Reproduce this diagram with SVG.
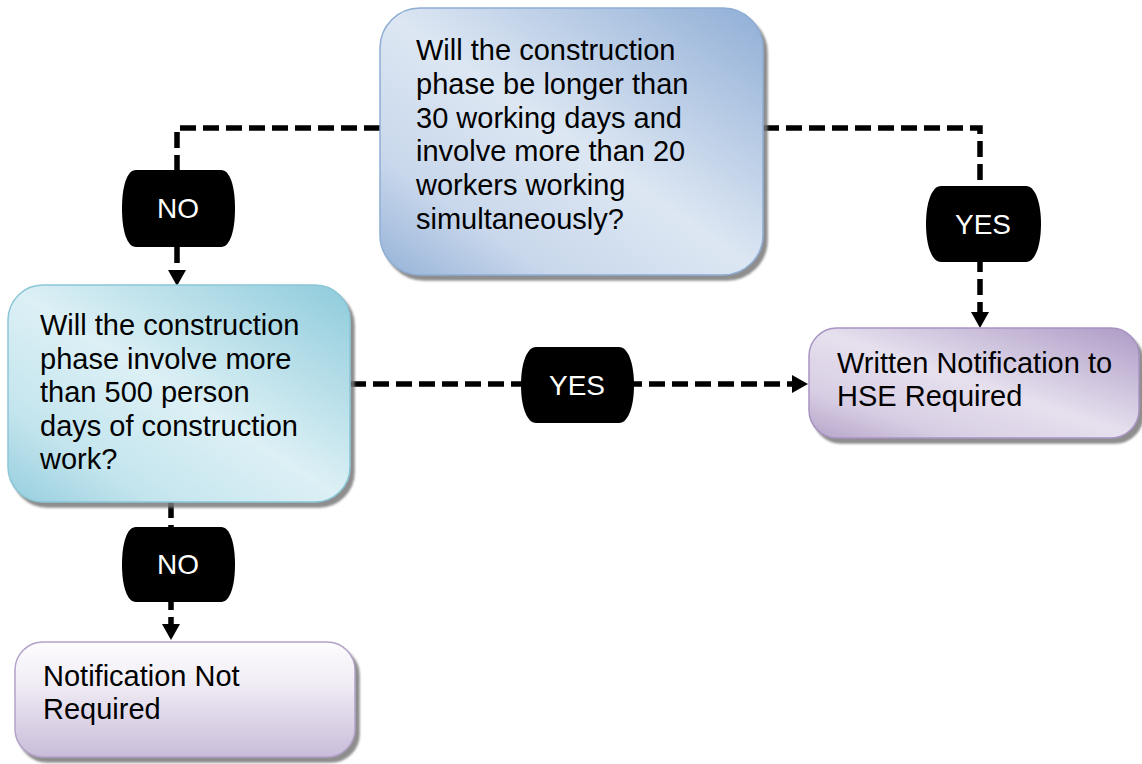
<svg xmlns="http://www.w3.org/2000/svg" width="1142" height="764" viewBox="0 0 1142 764">
  <style>
    .node-text { font-family: "Liberation Sans", Arial, sans-serif; font-size: 29px; fill: #000; }
    .label-text { font-family: "Liberation Sans", Arial, sans-serif; font-size: 28px; fill: #fff; text-anchor: middle; }
    .conn { fill: none; stroke: #000; stroke-width: 5.5; stroke-dasharray: 16 7; }
    .label-shape { fill: #000; }
  </style>
  <defs>
    <filter id="shadow" x="-10%" y="-10%" width="125%" height="125%">
      <feGaussianBlur in="SourceAlpha" stdDeviation="1.2" result="blur"/>
      <feOffset in="blur" dx="4" dy="5" result="off"/>
      <feFlood flood-color="#7a7a7a" flood-opacity="0.85"/>
      <feComposite in2="off" operator="in" result="shadow"/>
      <feMerge>
        <feMergeNode in="shadow"/>
        <feMergeNode in="SourceGraphic"/>
      </feMerge>
    </filter>
    <linearGradient id="gBlue" x1="1" y1="0" x2="0" y2="1">
      <stop offset="0" stop-color="#90aed6"/>
      <stop offset="0.5" stop-color="#dde7f3"/>
      <stop offset="0.78" stop-color="#c8d7eb"/>
      <stop offset="1" stop-color="#95b2d8"/>
    </linearGradient>
    <linearGradient id="gTeal" x1="1" y1="0" x2="0" y2="1">
      <stop offset="0" stop-color="#8ecbdb"/>
      <stop offset="0.5" stop-color="#dcf0f5"/>
      <stop offset="0.78" stop-color="#c4e5ee"/>
      <stop offset="1" stop-color="#96cede"/>
    </linearGradient>
    <linearGradient id="gPurple" x1="1" y1="0" x2="0" y2="1">
      <stop offset="0" stop-color="#ad9bc6"/>
      <stop offset="0.5" stop-color="#e6e0ee"/>
      <stop offset="0.78" stop-color="#d8cee4"/>
      <stop offset="1" stop-color="#b5a4c9"/>
    </linearGradient>
    <linearGradient id="gPurpleV" x1="0" y1="0" x2="0" y2="1">
      <stop offset="0" stop-color="#fdfcfe"/>
      <stop offset="0.35" stop-color="#f1edf5"/>
      <stop offset="1" stop-color="#c9bcda"/>
    </linearGradient>
    <marker id="arrow" viewBox="0 0 16 18" refX="0" refY="9" markerWidth="16" markerHeight="18" markerUnits="userSpaceOnUse" orient="auto">
      <path d="M0,0 L16,9 L0,18 Z" fill="#000"/>
    </marker>
  </defs>

  <g id="connectors">
    <path class="conn" d="M380,128 H177 V270" marker-end="url(#arrow)"/>
    <path class="conn" d="M763,128 H980 V312" marker-end="url(#arrow)"/>
    <path class="conn" d="M350,384 H792" marker-end="url(#arrow)"/>
    <path class="conn" d="M171,502 V624" marker-end="url(#arrow)"/>
  </g>

  <g id="node-q1">
    <rect x="380" y="8" width="383" height="267" rx="40" fill="url(#gBlue)" stroke="#8fadd3" stroke-width="1.5" filter="url(#shadow)"/>
    <text class="node-text">
      <tspan x="416" y="60">Will the construction</tspan>
      <tspan x="416" y="93.8">phase be longer than</tspan>
      <tspan x="416" y="127.6">30 working days and</tspan>
      <tspan x="416" y="161.4">involve more than 20</tspan>
      <tspan x="416" y="195.2">workers working</tspan>
      <tspan x="416" y="229">simultaneously?</tspan>
    </text>
  </g>

  <g id="node-q2">
    <rect x="8" y="285" width="342" height="217" rx="35" fill="url(#gTeal)" stroke="#8bc6d6" stroke-width="1.5" filter="url(#shadow)"/>
    <text class="node-text">
      <tspan x="40" y="335">Will the construction</tspan>
      <tspan x="40" y="368.5">phase involve more</tspan>
      <tspan x="40" y="402">than 500 person</tspan>
      <tspan x="40" y="435.5">days of construction</tspan>
      <tspan x="40" y="469">work?</tspan>
    </text>
  </g>

  <g id="node-required">
    <rect x="809" y="328" width="330" height="110" rx="28" fill="url(#gPurple)" stroke="#a894c2" stroke-width="1.5" filter="url(#shadow)"/>
    <text class="node-text">
      <tspan x="837" y="373">Written Notification to</tspan>
      <tspan x="837" y="406">HSE Required</tspan>
    </text>
  </g>

  <g id="node-not-required">
    <rect x="15" y="642" width="340" height="115" rx="28" fill="url(#gPurpleV)" stroke="#b3a2c7" stroke-width="1.5" filter="url(#shadow)"/>
    <text class="node-text">
      <tspan x="43" y="686">Notification Not</tspan>
      <tspan x="43" y="719">Required</tspan>
    </text>
  </g>

  <g id="label-no-1">
    <path class="label-shape" d="M136,170 H221 C230,170 235,186 235,208.5 C235,231 230,247 221,247 H136 C127,247 122,231 122,208.5 C122,186 127,170 136,170 Z"/>
    <text class="label-text" x="178" y="218">NO</text>
  </g>

  <g id="label-yes-1">
    <path class="label-shape" d="M941,186 H1026 C1035,186 1041,202 1041,224 C1041,246 1035,262 1026,262 H941 C932,262 926,246 926,224 C926,202 932,186 941,186 Z"/>
    <text class="label-text" x="983" y="234">YES</text>
  </g>

  <g id="label-yes-2">
    <path class="label-shape" d="M536,347 H619 C628,347 634,363 634,385 C634,407 628,423 619,423 H536 C527,423 521,407 521,385 C521,363 527,347 536,347 Z"/>
    <text class="label-text" x="577" y="395">YES</text>
  </g>

  <g id="label-no-2">
    <path class="label-shape" d="M136,527 H221 C230,527 235,543 235,564.5 C235,586 230,602 221,602 H136 C127,602 122,586 122,564.5 C122,543 127,527 136,527 Z"/>
    <text class="label-text" x="178" y="574">NO</text>
  </g>
</svg>
